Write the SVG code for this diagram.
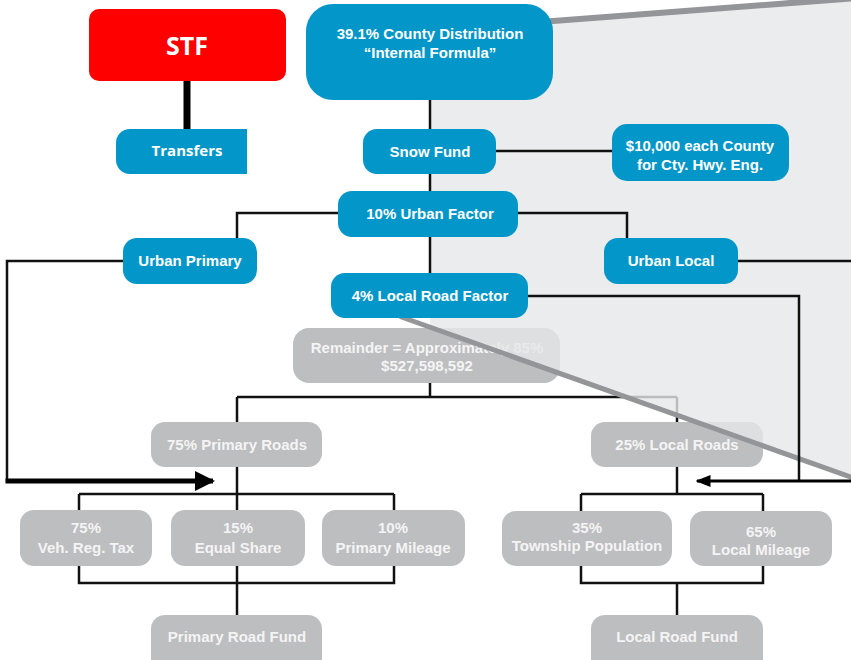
<svg xmlns="http://www.w3.org/2000/svg" width="851" height="660" viewBox="0 0 851 660">
<defs>
<style>
.blue{fill:#0396c9}
.grey{fill:#bdbec0}
.t{font-family:"Liberation Sans",Arial,sans-serif;font-weight:bold;font-size:15px;fill:#ffffff;text-anchor:middle}
.tg{font-family:"Liberation Sans",Arial,sans-serif;font-weight:bold;font-size:15px;fill:#f4f4f4;text-anchor:middle}
.ts{font-family:"Open Sans","Noto Sans",sans-serif;font-weight:bold;fill:#ffffff;text-anchor:middle}
.c{fill:none;stroke:#111111;stroke-width:2.5}
</style>
<marker id="ah" viewBox="0 0 10 10" refX="9" refY="5" markerWidth="4" markerHeight="4" orient="auto" markerUnits="strokeWidth"><path d="M0,0 L10,5 L0,10 z" fill="#000"/></marker>
<marker id="ah2" viewBox="0 0 10 10" refX="9" refY="5" markerWidth="5" markerHeight="5" orient="auto" markerUnits="strokeWidth"><path d="M0,1 L10,5 L0,9 z" fill="#000"/></marker>
</defs>
<rect width="851" height="660" fill="#ffffff"/>

<!-- lower (faded) connectors -->
<g id="lower-connectors">
<path class="c" d="M430,383 V397 M237,397 H677 M237,397 V422 M677,397 V422"/>
<path class="c" d="M237,467 V494 M79,494 H394 M79,494 V510 M237,494 V510 M394,494 V510"/>
<path class="c" d="M79,566 V583 H394 V566 M237,566 V615"/>
<path class="c" d="M677,467 V494 M581,494 H763 M581,494 V511 M763,494 V511"/>
<path class="c" d="M581,566 V583 H763 V566 M677,583 V615"/>
</g>

<g id="remainder"><rect class="grey" x="293" y="328" width="267" height="55" rx="16"/><text class="tg" x="427" y="353">Remainder = Approximately 85%</text><text class="tg" x="427" y="371">$527,598,592</text></g>
<g id="primary-roads"><rect class="grey" x="151" y="422" width="171" height="45" rx="14"/><text class="tg" x="237" y="449.5">75% Primary Roads</text></g>
<g id="local-roads"><rect class="grey" x="591" y="422" width="172" height="45" rx="14"/><text class="tg" x="677" y="449.5">25% Local Roads</text></g>
<g id="veh-reg"><rect class="grey" x="20" y="510" width="132" height="56" rx="14"/><text class="tg" x="86" y="533">75%</text><text class="tg" x="86" y="553">Veh. Reg. Tax</text></g>
<g id="equal-share"><rect class="grey" x="171" y="510" width="134" height="56" rx="14"/><text class="tg" x="238" y="533">15%</text><text class="tg" x="238" y="553">Equal Share</text></g>
<g id="primary-mileage"><rect class="grey" x="322" y="510" width="143" height="56" rx="14"/><text class="tg" x="393" y="533">10%</text><text class="tg" x="393" y="553">Primary Mileage</text></g>
<g id="township-pop"><rect class="grey" x="502" y="511" width="170" height="55" rx="14"/><text class="tg" x="587" y="533">35%</text><text class="tg" x="587" y="551">Township Population</text></g>
<g id="local-mileage"><rect class="grey" x="690" y="511" width="142" height="55" rx="14"/><text class="tg" x="761" y="537">65%</text><text class="tg" x="761" y="555">Local Mileage</text></g>
<g id="primary-road-fund"><rect class="grey" x="151" y="615" width="171" height="60" rx="14"/><text class="tg" x="237" y="642">Primary Road Fund</text></g>
<g id="local-road-fund"><rect class="grey" x="591" y="615" width="172" height="60" rx="14"/><text class="tg" x="677" y="642">Local Road Fund</text></g>

<!-- zoom overlay -->
<polygon points="430,60 553,20 856,-3 856,479 430,327" fill="#e6e7e9" fill-opacity="0.8"/>
<line x1="400" y1="316.5" x2="856" y2="479" stroke="#939598" stroke-width="5"/>
<line x1="540" y1="22" x2="856" y2="-2" stroke="#939598" stroke-width="6"/>

<!-- top connectors -->
<g id="connectors">
<line x1="187" y1="81" x2="187" y2="129" stroke="#000" stroke-width="7"/>
<path class="c" d="M430,100 V273"/>
<path class="c" d="M496,151 H612"/>
<path class="c" d="M338,213 H237 V238"/>
<path class="c" d="M518,213 H627 V238"/>
<path class="c" d="M123,261 H7 V481"/>
<path fill="none" stroke="#000" stroke-width="5" d="M5.5,481 H213" marker-end="url(#ah)"/>
<path class="c" d="M738,261 H856"/>
<path class="c" d="M528,296 H799 V481"/>
<path fill="none" stroke="#000" stroke-width="3" d="M851,481 H697" marker-end="url(#ah2)"/>
</g>

<g id="stf"><rect x="89" y="9" width="197" height="72" rx="10" fill="#ff0000"/><text class="ts" x="187" y="55" font-size="25">STF</text></g>
<g id="transfers"><path class="blue" d="M130,129 H247 V174 H130 A14,14 0 0 1 116,160 V143 A14,14 0 0 1 130,129 Z"/><text class="ts" x="187" y="156" font-size="15">Transfers</text></g>
<g id="county-dist"><rect class="blue" x="306" y="4" width="247" height="96" rx="27"/><text class="t" x="430" y="39">39.1% County Distribution</text><text class="t" x="430" y="58">“Internal Formula”</text></g>
<g id="snow-fund"><rect class="blue" x="363" y="129" width="133" height="45" rx="14"/><text class="t" x="430" y="156.5">Snow Fund</text></g>
<g id="cty-hwy"><rect class="blue" x="612" y="124" width="177" height="57" rx="15"/><text class="t" x="700" y="151">$10,000 each County</text><text class="t" x="700" y="170">for Cty. Hwy. Eng.</text></g>
<g id="urban-factor"><rect class="blue" x="338" y="191" width="180" height="46" rx="14"/><text class="t" x="430" y="219">10% Urban Factor</text></g>
<g id="urban-primary"><rect class="blue" x="123" y="238" width="134" height="46" rx="14"/><text class="t" x="190" y="266">Urban Primary</text></g>
<g id="urban-local"><rect class="blue" x="604" y="238" width="134" height="46" rx="14"/><text class="t" x="671" y="266">Urban Local</text></g>
<g id="local-road-factor"><rect class="blue" x="331" y="273" width="197" height="45" rx="14"/><text class="t" x="430" y="300.5">4% Local Road Factor</text></g>
</svg>
